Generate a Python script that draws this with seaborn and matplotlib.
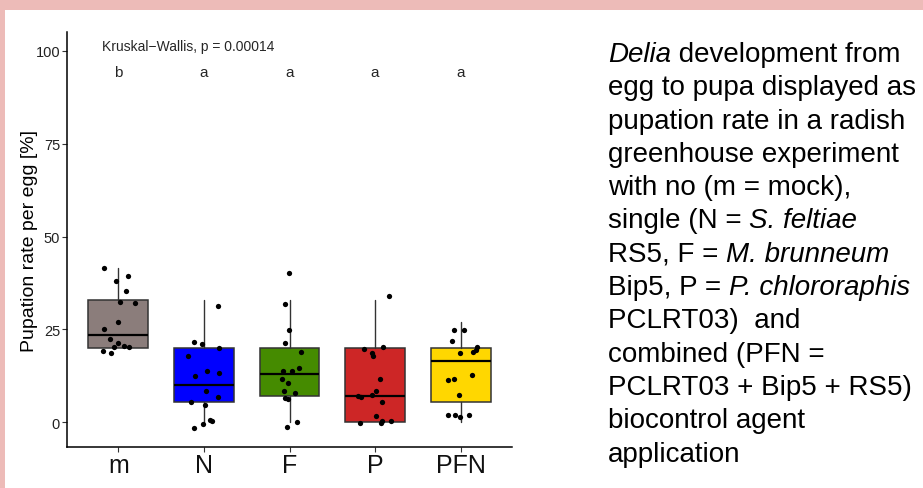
import numpy as np
import pandas as pd
import matplotlib
matplotlib.use("Agg")
import matplotlib.pyplot as plt
from matplotlib.patches import Rectangle
import seaborn as sns

# ---------------- data ----------------
groups = ["m", "N", "F", "P", "PFN"]
colors = ["#8B7D7B", "#0000FF", "#458B00", "#CD2626", "#FFD700"]
letters = ["b", "a", "a", "a", "a"]

# jittered point values as plotted (%)
pts_m = [41.6, 39.5, 38.0, 35.3, 32.0, 32.3, 27.1, 25.1, 22.3, 21.2, 20.5, 20.2, 20.3, 19.1, 18.6]
pts_N = [31.3, 21.7, 21.1, 19.9, 17.7, 13.8, 13.2, 12.5, 8.5, 6.7, 5.3, 4.7, 0.3, 0.7, -0.6, -1.7]
pts_F = [40.1, 31.9, 24.8, 21.3, 19.0, 14.5, 13.8, 13.7, 11.6, 10.6, 8.3, 7.8, 6.6, 6.3, 0.1, -1.4]
pts_P = [34.1, 19.6, 20.3, 18.7, 17.8, 11.6, 8.3, 7.2, 7.0, 6.7, 5.4, 1.7, 0.4, 0.4, -0.2, -0.2]
pts_PFN = [24.9, 24.8, 21.9, 20.3, 19.4, 18.8, 18.5, 12.7, 11.4, 11.5, 7.3, 1.9, 1.3, 1.9, 2.0]

# box statistics (%)
whis_lo = [20.0, 0.0, 0.0, 0.0, 0.0]
q1 = [20.0, 5.3, 7.0, 0.0, 5.3]
med = [23.4, 9.9, 13.0, 7.1, 16.4]
q3 = [32.9, 20.0, 20.0, 20.0, 20.0]
whis_hi = [41.6, 32.8, 33.0, 33.0, 26.9]

yticks = [0, 25, 50, 75, 100]
ylabel = "Pupation rate per egg [%]"
test_label = "Kruskal\u2212Wallis, p = 0.00014"

# caption: each line is a list of (text, italic) segments
caption_lines = [
    [("Delia", True), (" development from", False)],
    [("egg to pupa displayed as", False)],
    [("pupation rate in a radish", False)],
    [("greenhouse experiment", False)],
    [("with no (m = mock),", False)],
    [("single (N = ", False), ("S. feltiae", True)],
    [("RS5, F = ", False), ("M. brunneum", True)],
    [("Bip5, P = ", False), ("P. chlororaphis", True)],
    [("PCLRT03)  and", False)],
    [("combined (PFN =", False)],
    [("PCLRT03 + Bip5 + RS5)", False)],
    [("biocontrol agent", False)],
    [("application", False)],
]

# ---------------- figure ----------------
sns.set_style("white")
plt.rcParams["font.family"] = ["Liberation Sans", "DejaVu Sans"]

W, H = 923, 489
fig = plt.figure(figsize=(W / 100, H / 100), dpi=100, facecolor="#EDBBB8")
fig.patches.append(Rectangle((5 / W, 0), 1, (H - 11) / H, transform=fig.transFigure,
                             facecolor="white", edgecolor="none", zorder=-10))

ax = fig.add_axes([67 / W, (H - 448) / H, (512 - 67) / W, (448 - 33) / H])
ax.set_zorder(2)
ax.set_facecolor("white")

df = pd.DataFrame({
    "group": sum([[g] * len(p) for g, p in zip(groups, [pts_m, pts_N, pts_F, pts_P, pts_PFN])], []),
    "rate": pts_m + pts_N + pts_F + pts_P + pts_PFN,
})

stats = []
for i, g in enumerate(groups):
    stats.append(dict(label=g, whislo=whis_lo[i], q1=q1[i], med=med[i], q3=q3[i], whishi=whis_hi[i]))
bp = ax.bxp(stats, positions=range(len(groups)), widths=0.7, patch_artist=True,
            showfliers=False, showcaps=False,
            boxprops=dict(edgecolor="#333333", linewidth=1.1),
            medianprops=dict(color="black", linewidth=1.6),
            whiskerprops=dict(color="#333333", linewidth=1.0))
for patch, c in zip(bp["boxes"], colors):
    patch.set_facecolor(c)

np.random.seed(7)
sns.stripplot(data=df, x="group", y="rate", order=groups, color="black", size=3.8,
              jitter=0.2, ax=ax, zorder=5, linewidth=0)

ax.set_xlim(-0.6, 4.6)
ax.set_ylim(-6.7, 105.1)
ax.set_yticks(yticks)
ax.set_yticklabels([str(t) for t in yticks], fontsize=10.5, color="#222222")
ax.set_xticks(range(len(groups)))
ax.set_xticklabels(groups, fontsize=18, color="#111111")
ax.set_xlabel("")
ax.set_ylabel(ylabel, fontsize=14, color="black", labelpad=-2)
ax.tick_params(axis="both", which="major", direction="out", length=3.5, width=0.8,
               color="#333333", left=True, bottom=True)
ax.tick_params(axis="y", pad=1.5)
ax.tick_params(axis="x", pad=1)
for s in ["top", "right"]:
    ax.spines[s].set_visible(False)
for s in ["left", "bottom"]:
    ax.spines[s].set_color("black")
    ax.spines[s].set_linewidth(1.1)

ax.text(-0.19, 101.2, test_label, fontsize=10, ha="left", va="center")
for i, l in enumerate(letters):
    ax.text(i, 94.4, l, fontsize=11, ha="center", va="center")

# caption, drawn segment by segment
renderer = fig.canvas.get_renderer()
y0 = 55
dy = 33.3
for k, segs in enumerate(caption_lines):
    x = 608
    for txt, it in segs:
        t = fig.text(x / W, 1 - (y0 + k * dy) / H, txt, fontsize=20, ha="left", va="center",
                     color="black", style="italic" if it else "normal")
        bb = t.get_window_extent(renderer=renderer)
        x += bb.width

fig.savefig("out.png", dpi=100, facecolor=fig.get_facecolor())
